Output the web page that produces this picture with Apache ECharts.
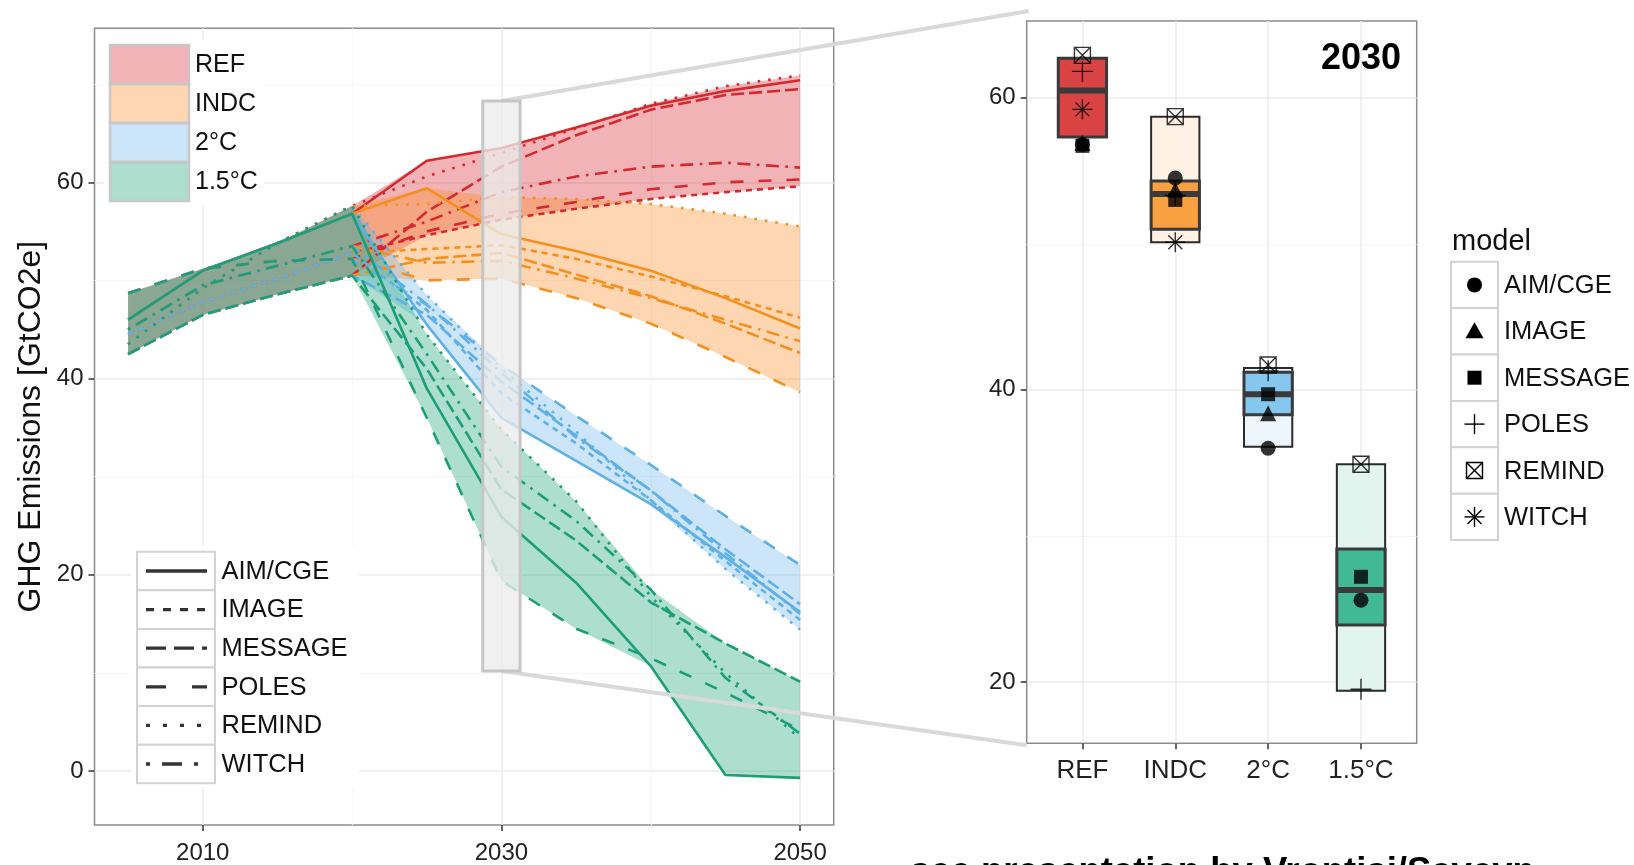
<!DOCTYPE html>
<html>
<head>
<meta charset="utf-8">
<script src="https://cdn.jsdelivr.net/npm/echarts@6/dist/echarts.min.js"></script>
<style>
  html, body { margin: 0; padding: 0; background: #fff; }
  #chart { width: 1634px; height: 865px; }
</style>
</head>
<body>
<div id="chart"></div>
<script>
const years = [2005, 2010, 2015, 2020, 2025, 2030, 2035, 2040, 2045, 2050];
const models = ['AIM/CGE', 'IMAGE', 'MESSAGE', 'POLES', 'REMIND', 'WITCH'];
const scenarios = ['REF', 'INDC', '2°C', '1.5°C'];

// 2005-2020, shared by every scenario (one row per model)
const history = [
  [46.0, 51.0, 53.8, 56.8],
  [44.5, 47.8, 50.2, 52.8],
  [42.5, 46.5, 48.6, 50.5],
  [48.7, 51.2, 52.0, 52.2],
  [43.5, 49.2, 53.8, 57.6],
  [45.0, 49.5, 51.5, 53.5]
];
// 2025-2050 per scenario (one row per model, null = not reported)
const refPath = [
  [62.2, 63.5, 65.6, 67.8, 69.3, 70.4],
  [54.6, 56.2, 57.3, 58.3, 59.0, 59.6],
  [57.0, 61.6, 64.8, 67.4, 68.9, 69.5],
  [55.0, 56.8, 58.0, 59.3, 60.0, 60.3],
  [60.6, 63.0, 65.5, 68.0, 69.8, 70.9],
  [56.0, 59.0, 60.6, 61.6, 62.0, 61.5]
];
const indcPath = [
  [59.4, 54.7, 53.0, 51.0, 48.2, 45.1],
  [53.2, 53.6, 52.2, 50.4, 48.4, 46.2],
  [52.2, 52.8, 50.6, 48.4, 45.6, 42.6],
  [50.0, 50.2, 48.2, 45.6, 42.2, 38.6],
  [57.8, 58.5, 58.3, 57.8, 56.8, 55.5],
  [51.8, 52.0, 50.2, 48.2, 46.0, 43.8]
];
const twoPath = [
  [45.5, 36.0, 31.6, 27.2, 21.8, 16.2],
  [47.0, 38.5, 33.4, 27.6, 21.4, 15.4],
  [46.5, 39.7, 34.2, 28.6, 22.6, 17.0],
  [47.5, 41.4, 36.2, 31.2, 26.0, 21.0],
  [48.5, 41.0, 34.6, 27.6, 20.6, 14.4],
  [47.6, 40.6, 34.0, 28.6, 22.2, 16.0]
];
const oneFivePath = [
  [39.0, 25.9, 19.2, 10.7, -0.4, -0.7],
  null,
  [41.0, 28.7, 23.5, 17.2, 13.0, 9.1],
  [36.0, 19.4, 14.5, 11.5, 8.0, 4.2],
  [44.5, 34.8, 27.5, 17.8, 10.0, 3.3],
  [42.5, 31.0, 25.5, 18.5, 9.5, 3.8]
];

// 2030 snapshot (right panel), one value per scenario
const boxLow = [57.3, 50.1, 36.1, 19.4];
const boxHigh = [62.7, 58.7, 41.5, 34.9];
const boxQ1 = [57.3, 51.0, 38.3, 23.9];
const boxQ3 = [62.7, 54.3, 41.2, 29.1];
const boxMedian = [60.5, 53.4, 39.7, 26.3];
const aim2030 = [56.8, 54.5, 36.0, 25.6];
const image2030 = [56.9, 53.7, 38.4, null];
const message2030 = [56.7, 53.0, 39.7, 27.2];
const poles2030 = [61.8, 53.3, 41.3, 19.5];
const remind2030 = [62.9, 58.7, 41.7, 34.9];
const witch2030 = [59.2, 50.1, null, null];

// zoom window marked on the left panel
const zoomYears = [2028.75, 2031.25];
const zoomRange = [10.2, 68.3];

const FONT = '"Liberation Sans", Arial, sans-serif';
const lineColors = ['#d42a2f', '#f5901f', '#5eb0e5', '#1c9e77'];
const bandFills = ['rgba(220,45,55,0.36)', 'rgba(252,140,40,0.36)', 'rgba(100,175,235,0.32)', 'rgba(30,165,120,0.36)'];
const dashes = ['solid', [6, 5], [13, 5], [13, 15], [2.6, 8], [2.6, 6.5, 13, 6.5]];
const legendDashes = [null, [8, 9], [20, 8], [20, 26], [4, 13], [4, 12, 20, 12]];
const boxDark = ['#d94343', '#f9a040', '#86c7f0', '#42b995'];
const boxLight = ['#fbe3e3', '#fff1e3', '#edf6fd', '#e2f4ee'];

const paths = [refPath, indcPath, twoPath, oneFivePath];
const points2030 = [aim2030, image2030, message2030, poles2030, remind2030, witch2030];

const symbolDefs = [
  { symbol: 'circle', size: 15, fill: true },
  { symbol: 'triangle', size: 16, fill: true },
  { symbol: 'rect', size: 14, fill: true },
  { symbol: 'path://M0,10 L20,10 M10,0 L10,20', size: 21, fill: false },
  { symbol: 'path://M0,0 L20,0 L20,20 L0,20 Z M0,0 L20,20 M20,0 L0,20', size: 16, fill: false },
  { symbol: 'path://M0,10 L20,10 M10,0 L10,20 M3,3 L17,17 M17,3 L3,17', size: 20, fill: false }
];

const chart = echarts.init(document.getElementById('chart'));

const series = [];
const fullLines = scenarios.map((sc, s) =>
  models.map((m, k) => paths[s][k] ? history[k].concat(paths[s][k]) : null)
);

// ribbons (min-max over models)
scenarios.forEach((sc, s) => {
  const rows = fullLines[s].filter(Boolean);
  const lo = years.map((y, i) => Math.min(...rows.map(r => r[i])));
  const hi = years.map((y, i) => Math.max(...rows.map(r => r[i])));
  series.push({
    type: 'custom', name: sc, xAxisIndex: 0, yAxisIndex: 0, silent: true, z: 2,
    data: [[years[0], lo[0]]],
    renderItem: function (params, api) {
      const top = years.map((y, i) => api.coord([y, hi[i]]));
      const bot = years.map((y, i) => api.coord([y, lo[i]])).reverse();
      return { type: 'polygon', shape: { points: top.concat(bot) }, style: { fill: bandFills[s] } };
    }
  });
});

// model lines
scenarios.forEach((sc, s) => {
  models.forEach((m, k) => {
    const row = fullLines[s][k];
    if (!row) return;
    series.push({
      type: 'line', name: sc + ' ' + m, xAxisIndex: 0, yAxisIndex: 0, z: 2,
      symbol: 'none', silent: true,
      data: years.map((y, i) => [y, row[i]]),
      lineStyle: { color: lineColors[s], width: 2.6, type: dashes[k] }
    });
  });
});

// zoom window rectangle
series.push({
  type: 'custom', xAxisIndex: 0, yAxisIndex: 0, silent: true, z: 4,
  data: [[zoomYears[0], zoomRange[0], zoomYears[1], zoomRange[1]]],
  renderItem: function (params, api) {
    const a = api.coord([api.value(0), api.value(3)]);
    const b = api.coord([api.value(2), api.value(1)]);
    return { type: 'rect', shape: { x: a[0], y: a[1], width: b[0] - a[0], height: b[1] - a[1] },
      style: { fill: 'rgba(236,236,236,0.78)', stroke: '#c6c6c6', lineWidth: 3 } };
  }
});

// 2030 boxes
series.push({
  type: 'custom', xAxisIndex: 2, yAxisIndex: 2, silent: true, z: 2,
  encode: { x: 0, y: [1, 2, 3, 4, 5] },
  data: scenarios.map((sc, i) => [i + 1, boxLow[i], boxHigh[i], boxQ1[i], boxQ3[i], boxMedian[i]]),
  renderItem: function (params, api) {
    const x = api.value(0), w = 0.26, i = params.dataIndex;
    const rect = (lo, hi) => {
      const a = api.coord([x - w, hi]);
      const b = api.coord([x + w, lo]);
      return { x: a[0], y: a[1], width: b[0] - a[0], height: b[1] - a[1] };
    };
    const m1 = api.coord([x - w, api.value(5)]);
    const m2 = api.coord([x + w, api.value(5)]);
    return { type: 'group', children: [
      { type: 'rect', shape: rect(api.value(1), api.value(2)), style: { fill: boxLight[i], stroke: '#2b2b2b', lineWidth: 2 } },
      { type: 'rect', shape: rect(api.value(3), api.value(4)), style: { fill: boxDark[i], stroke: '#3a3a3a', lineWidth: 3 } },
      { type: 'line', shape: { x1: m1[0], y1: m1[1], x2: m2[0], y2: m2[1] }, style: { stroke: '#3a3a3a', lineWidth: 6 } }
    ] };
  }
});

// model points for 2030
models.forEach((m, k) => {
  const d = symbolDefs[k];
  series.push({
    type: 'scatter', name: m, xAxisIndex: 2, yAxisIndex: 2, z: 3, silent: true,
    symbol: d.symbol, symbolSize: d.size,
    itemStyle: d.fill ? { color: '#000' } : { color: 'none', borderColor: '#000', borderWidth: 1.4 },
    data: scenarios.map((sc, i) => [i + 1, points2030[k][i]]).filter(p => p[1] != null)
  });
});

const tick = { length: 6, lineStyle: { color: '#333', width: 1.5 } };
const major = { show: true, lineStyle: { color: '#ebebeb', width: 1.5 } };
const minor = { show: true, lineStyle: { color: '#f6f6f6', width: 1.2 } };
const noLine = { show: false, onZero: false };
function label(vals, margin, size, fmt) {
  return { customValues: vals, margin: margin, fontSize: size, color: '#222', fontFamily: FONT, formatter: fmt || (v => String(v)) };
}
function minorAxis(grid, min, max, vals) {
  return { gridIndex: grid, type: 'value', min: min, max: max,
    axisLine: noLine, axisTick: { show: false, customValues: vals },
    axisLabel: { show: false, customValues: vals }, splitLine: minor };
}

chart.setOption({
  animation: false,
  backgroundColor: '#fff',
  grid: [
    { left: 94.5, top: 28.3, width: 739.2, height: 798.4, show: true, borderColor: '#8c8c8c', borderWidth: 1.5, backgroundColor: 'transparent' },
    { left: 1026.7, top: 21, width: 390, height: 722.3, show: true, borderColor: '#8c8c8c', borderWidth: 1.5, backgroundColor: 'transparent' }
  ],
  xAxis: [
    { gridIndex: 0, type: 'value', min: 2002.75, max: 2052.25, axisLine: noLine,
      axisTick: Object.assign({ customValues: [2010, 2030, 2050] }, tick),
      axisLabel: label([2010, 2030, 2050], 16, 24),
      splitLine: major },
    minorAxis(0, 2002.75, 2052.25, [2020, 2040]),
    { gridIndex: 1, type: 'value', min: 0.4, max: 4.6, axisLine: noLine,
      axisTick: Object.assign({ customValues: [1, 2, 3, 4] }, tick),
      axisLabel: label([1, 2, 3, 4], 15, 26, v => scenarios[Math.round(v) - 1]),
      splitLine: major }
  ],
  yAxis: [
    { gridIndex: 0, type: 'value', min: -5.5, max: 75.7, axisLine: noLine,
      axisTick: Object.assign({ customValues: [0, 20, 40, 60] }, tick),
      axisLabel: label([0, 20, 40, 60], 11, 24),
      splitLine: major,
      name: 'GHG Emissions [GtCO2e]', nameLocation: 'middle', nameRotate: 90, nameGap: 47,
      nameTextStyle: { fontSize: 32, color: '#111', fontFamily: FONT } },
    minorAxis(0, -5.5, 75.7, [10, 30, 50, 70]),
    { gridIndex: 1, type: 'value', min: 15.8, max: 65.25, axisLine: noLine,
      axisTick: Object.assign({ customValues: [20, 40, 60] }, tick),
      axisLabel: label([20, 40, 60], 11, 24),
      splitLine: major },
    minorAxis(1, 15.8, 65.25, [30, 50])
  ],
  series: series
});

// legends, labels and zoom connectors
const g = [];
const txt = (text, x, y, size, extra) => ({
  type: 'text', z: 20,
  style: Object.assign({ text: text, x: x, y: y, fontSize: size, fontFamily: FONT, fill: '#111', verticalAlign: 'middle' }, extra || {})
});
const seg = (x1, y1, x2, y2, w, z) => ({
  type: 'line', z: z || 21, shape: { x1: x1, y1: y1, x2: x2, y2: y2 }, style: { stroke: '#000', lineWidth: w }
});

// fill legend
g.push({ type: 'rect', z: 19, shape: { x: 104, y: 40, width: 160, height: 166 }, style: { fill: '#fff' } });
scenarios.forEach((sc, i) => {
  g.push({ type: 'rect', z: 20, shape: { x: 110, y: 45 + i * 39, width: 79, height: 39 }, style: { fill: bandFills[i], stroke: '#c8c8c8', lineWidth: 2.5 } });
  g.push(txt(sc, 195, 65 + i * 39, 25));
});

// linetype legend
g.push({ type: 'rect', z: 19, shape: { x: 131, y: 546, width: 228, height: 243 }, style: { fill: '#fff' } });
models.forEach((m, k) => {
  const y = 551.7 + k * 38.6;
  g.push({ type: 'rect', z: 20, shape: { x: 137, y: y, width: 78, height: 38.6 }, style: { fill: '#fff', stroke: '#d2d2d2', lineWidth: 2 } });
  g.push({ type: 'line', z: 21, shape: { x1: 146, y1: y + 19.3, x2: 207, y2: y + 19.3 }, style: { stroke: '#333', lineWidth: 3.3, lineDash: legendDashes[k] } });
  g.push(txt(m, 221.5, y + 20, 25.5));
});

// model (shape) legend
g.push(txt('model', 1452, 242, 29));
models.forEach((m, k) => {
  const y = 261.7 + k * 46.4, cx = 1474.5, cy = y + 23.2;
  g.push({ type: 'rect', z: 20, shape: { x: 1451, y: y, width: 47, height: 46.4 }, style: { fill: '#fff', stroke: '#d2d2d2', lineWidth: 2 } });
  if (k === 0) g.push({ type: 'circle', z: 21, shape: { cx: cx, cy: cy, r: 7.5 }, style: { fill: '#000' } });
  if (k === 1) g.push({ type: 'polygon', z: 21, shape: { points: [[cx, cy - 9], [cx + 9, cy + 7], [cx - 9, cy + 7]] }, style: { fill: '#000' } });
  if (k === 2) g.push({ type: 'rect', z: 21, shape: { x: cx - 7, y: cy - 7, width: 14, height: 14 }, style: { fill: '#000' } });
  if (k === 3) { g.push(seg(cx - 10, cy, cx + 10, cy, 1.4)); g.push(seg(cx, cy - 10, cx, cy + 10, 1.4)); }
  if (k === 4) {
    g.push({ type: 'rect', z: 21, shape: { x: cx - 8, y: cy - 8, width: 16, height: 16 }, style: { fill: 'none', stroke: '#000', lineWidth: 1.4 } });
    g.push(seg(cx - 8, cy - 8, cx + 8, cy + 8, 1.4)); g.push(seg(cx + 8, cy - 8, cx - 8, cy + 8, 1.4));
  }
  if (k === 5) {
    g.push(seg(cx - 10, cy, cx + 10, cy, 1.4)); g.push(seg(cx, cy - 10, cx, cy + 10, 1.4));
    g.push(seg(cx - 7, cy - 7, cx + 7, cy + 7, 1.4)); g.push(seg(cx + 7, cy - 7, cx - 7, cy + 7, 1.4));
  }
  g.push(txt(m, 1504, cy + 1, 25.5));
});

// panel label and footer
g.push(txt('2030', 1401, 59.5, 36, { align: 'right', fontWeight: 'bold', fill: '#000' }));
g.push(txt('see presentation by Vrontisi/Saveyn', 910, 873, 36.5, { fontWeight: 'bold', fill: '#000' }));

// connectors from the zoom window to the 2030 panel
const start1 = chart.convertToPixel({ xAxisIndex: 0, yAxisIndex: 0 }, [2030, zoomRange[1]]);
const start2 = chart.convertToPixel({ xAxisIndex: 0, yAxisIndex: 0 }, [2030, zoomRange[0]]);
const cornerTop = chart.convertToPixel({ xAxisIndex: 2, yAxisIndex: 2 }, [0.4, 65.25]);
const cornerBot = chart.convertToPixel({ xAxisIndex: 2, yAxisIndex: 2 }, [0.4, 15.8]);
g.push({ type: 'line', z: 3, shape: { x1: start1[0], y1: start1[1], x2: cornerTop[0] + 2, y2: cornerTop[1] - 10 }, style: { stroke: '#d9d9d9', lineWidth: 4 } });
g.push({ type: 'line', z: 3, shape: { x1: start2[0], y1: start2[1], x2: cornerBot[0], y2: cornerBot[1] + 2 }, style: { stroke: '#d9d9d9', lineWidth: 4 } });

chart.setOption({ graphic: g });
</script>
</body>
</html>
